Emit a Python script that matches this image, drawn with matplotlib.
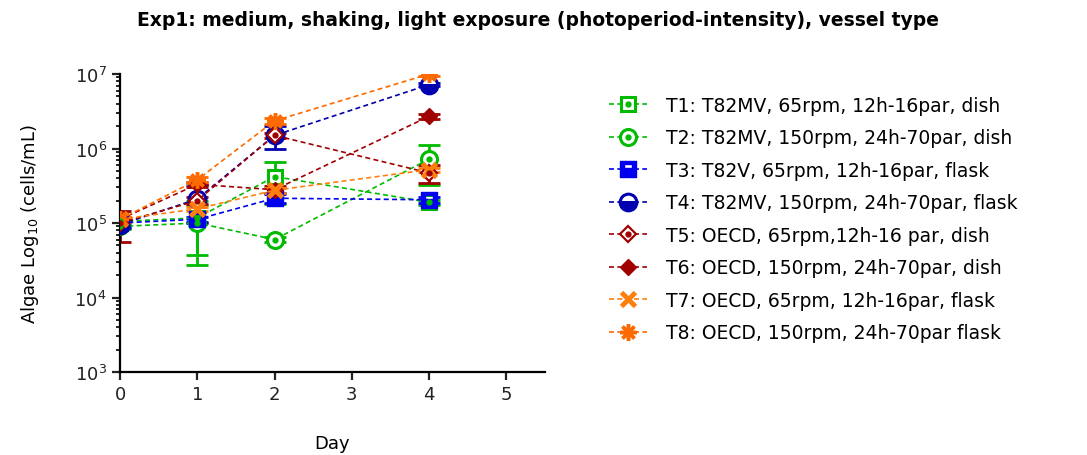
import numpy as np
import matplotlib
matplotlib.use('Agg')
import matplotlib.pyplot as plt
from matplotlib.path import Path
from matplotlib.legend_handler import HandlerTuple
from matplotlib.ticker import LogLocator, NullFormatter

plt.rcParams['font.family'] = ['DejaVu Sans']

days = [0, 1, 2, 4]

labels = [
    'T1: T82MV, 65rpm, 12h-16par, dish',
    'T2: T82MV, 150rpm, 24h-70par, dish',
    'T3: T82V, 65rpm, 12h-16par, flask',
    'T4: T82MV, 150rpm, 24h-70par, flask',
    'T5: OECD, 65rpm,12h-16 par, dish',
    'T6: OECD, 150rpm, 24h-70par, dish',
    'T7: OECD, 65rpm, 12h-16par, flask',
    'T8: OECD, 150rpm, 24h-70par flask',
]

# mean cells/mL and SD
t1_mean = [1.05e5, 1.17e5, 4.2e5, 1.9e5]
t1_sd = [1.0e4, 8.0e4, 2.4e5, 1.5e4]
t2_mean = [9.0e4, 1.0e5, 6.0e4, 7.2e5]
t2_sd = [8.0e3, 7.3e4, 5.0e3, 4.0e5]
t3_mean = [1.0e5, 1.12e5, 2.15e5, 2.05e5]
t3_sd = [1.0e4, 1.0e4, 3.0e4, 2.0e4]
t4_mean = [9.5e4, 2.1e5, 1.5e6, 7.2e6]
t4_sd = [1.0e4, 1.1e5, 5.0e5, 4.0e5]
t5_mean = [1.0e5, 2.0e5, 1.5e6, 4.7e5]
t5_sd = [4.5e4, 2.0e4, 1.0e5, 1.3e5]
t6_mean = [1.12e5, 3.3e5, 2.8e5, 2.7e6]
t6_sd = [1.0e4, 3.0e4, 3.0e4, 2.0e5]
t7_mean = [1.12e5, 1.55e5, 2.75e5, 5.2e5]
t7_sd = [1.0e4, 1.0e4, 2.0e4, 3.0e4]
t8_mean = [1.12e5, 3.8e5, 2.35e6, 1.0e7]
t8_sd = [1.0e4, 3.0e4, 2.0e5, 5.0e5]

means = [t1_mean, t2_mean, t3_mean, t4_mean, t5_mean, t6_mean, t7_mean, t8_mean]
sds = [t1_sd, t2_sd, t3_sd, t4_sd, t5_sd, t6_sd, t7_sd, t8_sd]

green = '#00BB00'
blue = '#0000EE'
dblue = '#0000B0'
red = '#A00000'
orange = '#FF7F0E'
orange2 = '#FF6A00'
colors = [green, green, blue, dblue, red, red, orange, orange2]

# blue square with a white slot near the top
sq = [(-1, -1), (1, -1), (1, 1), (-1, 1), (-1, -1)]
slot = [(-0.55, 0.15), (-0.55, 0.6), (0.55, 0.6), (0.55, 0.15), (-0.55, 0.15)]
codes = [Path.MOVETO, Path.LINETO, Path.LINETO, Path.LINETO, Path.CLOSEPOLY]
slot_square = Path(sq + slot, codes + codes)

styles = [
    dict(marker='s', mfc='white', mec=green, ms=10.5, mew=2.2),
    dict(marker='o', mfc='white', mec=green, ms=11.5, mew=2.2),
    dict(marker=slot_square, mfc=blue, mec=blue, ms=11, mew=1),
    dict(marker='o', fillstyle='bottom', mfc=dblue, mfcalt='white', mec=dblue, ms=12, mew=2.2),
    dict(marker='D', mfc='white', mec=red, ms=8.5, mew=1.6),
    dict(marker='D', mfc=red, mec=red, ms=8.5, mew=1),
    dict(marker='x', mfc=orange, mec=orange, ms=10.5, mew=3.5),
    dict(marker=(8, 2, 0), mfc=orange2, mec=orange2, ms=12, mew=2.5),
]
# small centre dot for some markers
dots = [True, True, False, False, True, False, False, False]

fig = plt.figure(figsize=(10.87, 4.56), dpi=100)
ax = fig.add_axes([120 / 1087, 83 / 456, 425 / 1087, 298 / 456])

handles = []
for i in range(8):
    c = colors[i]
    ax.errorbar(days, means[i], yerr=sds[i], fmt='none', ecolor=c,
                elinewidth=2, capsize=8, capthick=2, zorder=2)
    ln, = ax.plot(days, means[i], linestyle=(0, (3, 2)), linewidth=1.2,
                  color=c, zorder=3, **styles[i])
    h = ln
    if dots[i]:
        d, = ax.plot(days, means[i], linestyle='none', marker='o', ms=3.5,
                     color=c, zorder=4)
        h = (ln, d)
    handles.append(h)

ax.set_yscale('log')
ax.set_ylim(1e3, 1e7)
ax.set_xlim(0, 5.5)
ax.set_xticks([0, 1, 2, 3, 4, 5])
ax.yaxis.set_major_locator(LogLocator(base=10, numticks=10))
ax.yaxis.set_minor_locator(LogLocator(base=10, subs=np.arange(2, 10), numticks=10))
ax.yaxis.set_minor_formatter(NullFormatter())

for s in ['top', 'right']:
    ax.spines[s].set_visible(False)
for s in ['left', 'bottom']:
    ax.spines[s].set_linewidth(1.6)
ax.tick_params(axis='both', which='major', direction='out', length=6, width=1.6,
               labelsize=13, colors='#222222')
ax.tick_params(axis='y', which='minor', direction='out', length=3, width=1.2)

ax.set_xlabel('Day', fontsize=13, labelpad=22)
ax.set_ylabel('Algae Log$_{10}$ (cells/mL)', fontsize=13, labelpad=24)

fig.suptitle('Exp1: medium, shaking, light exposure (photoperiod-intensity), vessel type',
             x=0.495, y=0.975, fontsize=13.5, fontweight='bold')

leg = fig.legend(handles, labels, loc='upper left', bbox_to_anchor=(0.545, 0.825),
                 frameon=False, fontsize=13.5, handlelength=2.0, handletextpad=1.0,
                 labelspacing=0.72,
                 handler_map={tuple: HandlerTuple(ndivide=1, pad=0)})

fig.savefig('out.png', dpi=100)
